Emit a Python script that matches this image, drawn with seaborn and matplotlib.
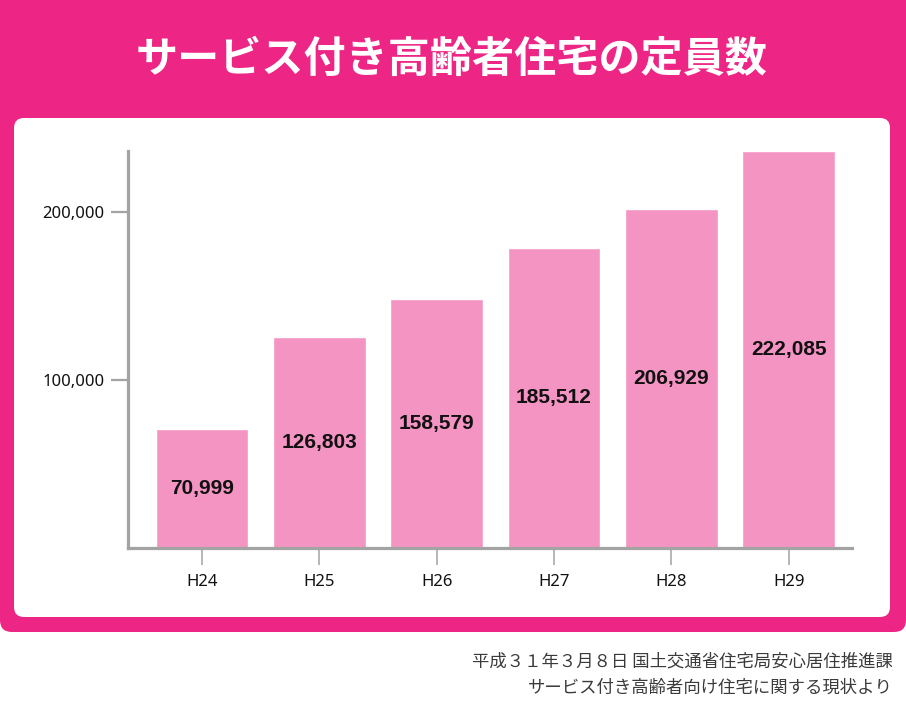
import matplotlib
matplotlib.use("Agg")
from matplotlib import pyplot as plt
from matplotlib.patches import FancyBboxPatch
import seaborn as sns
import pandas as pd

# data
years = ["H24", "H25", "H26", "H27", "H28", "H29"]
bar_heights = [70800, 125600, 148200, 178600, 201800, 236300]
value_labels = ["70,999", "126,803", "158,579", "185,512", "206,929", "222,085"]
y_ticks = [100000, 200000]

title = "サービス付き高齢者住宅の定員数"
source_lines = ["平成３１年３月８日 国土交通省住宅局安心居住推進課",
                "サービス付き高齢者向け住宅に関する現状より"]

frame_color = "#ED2585"
bar_color = "#F494C3"
axis_color = "#A3A3A3"

sns.set_theme(style="white")
plt.rcParams['font.family'] = ['Noto Sans CJK JP', 'DejaVu Sans']

W, H = 906, 710
fig = plt.figure(figsize=(W / 100, H / 100), dpi=100)

#========Background frame (pixel coords)============================
bg = fig.add_axes([0, 0, 1, 1])
bg.set_xlim(0, W)
bg.set_ylim(H, 0)
bg.axis("off")
bg.add_patch(FancyBboxPatch((0, -20), W, 652, boxstyle="round,pad=0,rounding_size=12",
                            facecolor=frame_color, edgecolor="none"))
bg.add_patch(FancyBboxPatch((14, 118), 876, 499, boxstyle="round,pad=0,rounding_size=10",
                            facecolor="white", edgecolor="none"))
bg.text(W / 2 - 1, 60, title, ha="center", va="center", color="white",
        fontsize=30.3, fontweight="bold")
bg.text(893, 661, source_lines[0], ha="right", va="center", color="#3a3a3a", fontsize=12.5)
bg.text(893, 688, source_lines[1], ha="right", va="center", color="#3a3a3a", fontsize=12.5)

#========Bar chart============================
left, right, top, bottom = 128, 852, 151, 548
ax = fig.add_axes([left / W, (H - bottom) / H, (right - left) / W, (bottom - top) / H])
ax.set_facecolor("none")

df = pd.DataFrame({"year": years, "height": bar_heights})
sns.barplot(data=df, x="year", y="height", color=bar_color, saturation=1,
            width=0.79, ax=ax)

for i, (h, lab) in enumerate(zip(bar_heights, value_labels)):
    ax.text(i, h / 2, lab, ha="center", va="center", fontsize=15,
            fontweight="bold", family=["Liberation Sans", "DejaVu Sans"], color="#111111")

ax.set_xlim(-0.63, 5.54)
ax.set_ylim(0, 236300)
ax.set_yticks(y_ticks)
ax.set_yticklabels([f"{v:,}" for v in y_ticks])
ax.set_xlabel("")
ax.set_ylabel("")

for s in ["top", "right"]:
    ax.spines[s].set_visible(False)
for s in ["left", "bottom"]:
    ax.spines[s].set_color(axis_color)
    ax.spines[s].set_linewidth(2.3)

tick_font = ["Noto Sans", "DejaVu Sans"]
ax.tick_params(axis="y", length=12, width=1.6, color=axis_color, pad=5,
               labelsize=12, labelcolor="#111111", left=True)
ax.tick_params(axis="x", length=12, width=1.1, color=axis_color, pad=7,
               labelsize=12, labelcolor="#111111", bottom=True)
for lab in ax.get_xticklabels() + ax.get_yticklabels():
    lab.set_family(tick_font)

fig.savefig("out.png", dpi=100)
